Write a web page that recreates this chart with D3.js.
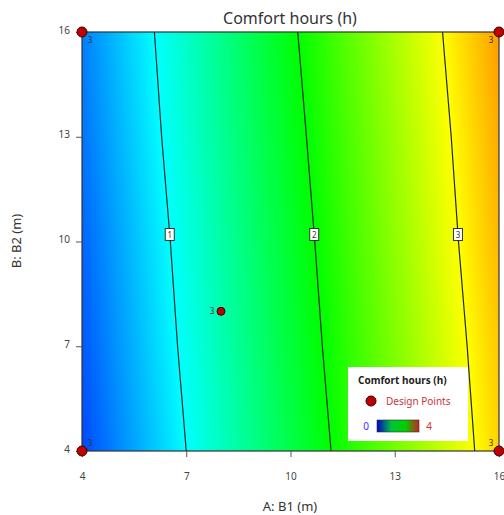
<!DOCTYPE html>
<html>
<head>
<meta charset="utf-8">
<script src="https://cdnjs.cloudflare.com/ajax/libs/d3/7.8.5/d3.min.js"></script>
<style>
  body { margin: 0; background: #fff; }
  svg { font-family: "Noto Sans", "Open Sans", sans-serif; }
</style>
</head>
<body>
<div id="chart"></div>
<script>
// grid of response values (rows: B, columns: A)
const aTicks = [4, 7, 10, 13, 16];
const bTicks = [4, 7, 10, 13, 16];
const comfort = [
  [0.28, 1.00, 1.72, 2.44, 3.17], // B = 4
  [0.34, 1.06, 1.78, 2.50, 3.22], // B = 7
  [0.39, 1.11, 1.83, 2.56, 3.28], // B = 10
  [0.45, 1.17, 1.89, 2.61, 3.33], // B = 13
  [0.50, 1.22, 1.95, 2.67, 3.39]  // B = 16
];
const levels = [1, 2, 3];
const labelB = 10.2;
const designA = [4, 16, 4, 16, 8];
const designB = [16, 16, 4, 4, 8];
const designRuns = [3, 3, 3, 3, 3];

const W = 504, H = 515;
const x = d3.scaleLinear().domain([4, 16]).range([82, 499]);
const y = d3.scaleLinear().domain([4, 16]).range([451, 32]);
const color = d3.scaleLinear()
  .domain([0, 1, 2, 3, 4])
  .range(["#0000ff", "#00ffff", "#00ff00", "#ffff00", "#ff0000"])
  .clamp(true);

// bilinear lookup in the read grid
function valueAt(a, b) {
  let i = d3.bisectRight(aTicks, a) - 1;
  let j = d3.bisectRight(bTicks, b) - 1;
  i = Math.max(0, Math.min(aTicks.length - 2, i));
  j = Math.max(0, Math.min(bTicks.length - 2, j));
  const tx = (a - aTicks[i]) / (aTicks[i + 1] - aTicks[i]);
  const ty = (b - bTicks[j]) / (bTicks[j + 1] - bTicks[j]);
  const v00 = comfort[j][i], v10 = comfort[j][i + 1];
  const v01 = comfort[j + 1][i], v11 = comfort[j + 1][i + 1];
  return (v00 * (1 - tx) + v10 * tx) * (1 - ty) + (v01 * (1 - tx) + v11 * tx) * ty;
}

const svg = d3.select("#chart").append("svg")
  .attr("width", W).attr("height", H);

// heat map
const x0 = x.range()[0], x1 = x.range()[1];
const y0 = y.range()[1], y1 = y.range()[0];
const cw = Math.round(x1 - x0), ch = Math.round(y1 - y0);
const canvas = document.createElement("canvas");
canvas.width = cw; canvas.height = ch;
const ctx = canvas.getContext("2d");
const img = ctx.createImageData(cw, ch);
for (let py = 0; py < ch; py++) {
  const b = y.invert(y0 + py + 0.5);
  for (let px = 0; px < cw; px++) {
    const a = x.invert(x0 + px + 0.5);
    const c = d3.rgb(color(valueAt(a, b)));
    const k = (py * cw + px) * 4;
    img.data[k] = c.r; img.data[k + 1] = c.g; img.data[k + 2] = c.b; img.data[k + 3] = 255;
  }
}
ctx.putImageData(img, 0, 0);
svg.append("image")
  .attr("x", x0).attr("y", y0)
  .attr("width", cw).attr("height", ch)
  .attr("preserveAspectRatio", "none")
  .attr("href", canvas.toDataURL());

// contour lines: crossing point of each level in every grid row
function crossing(row, lev) {
  for (let i = 0; i < aTicks.length - 1; i++) {
    const v0 = row[i], v1 = row[i + 1];
    if ((v0 - lev) * (v1 - lev) <= 0 && v0 !== v1) {
      return aTicks[i] + (lev - v0) / (v1 - v0) * (aTicks[i + 1] - aTicks[i]);
    }
  }
  return null;
}
const line = d3.line().x(d => x(d[0])).y(d => y(d[1]));
levels.forEach(lev => {
  const pts = bTicks.map((b, j) => [crossing(comfort[j], lev), b]).filter(d => d[0] !== null);
  svg.append("path")
    .attr("d", line(pts))
    .attr("fill", "none")
    .attr("stroke", "#1a2a2a")
    .attr("stroke-width", 1.2);
  // label box
  const la = d3.scaleLinear().domain(bTicks).range(pts.map(d => d[0]))(labelB);
  const g = svg.append("g").attr("transform", `translate(${x(la)},${y(labelB)})`);
  g.append("rect")
    .attr("x", -4.5).attr("y", -6).attr("width", 9).attr("height", 12)
    .attr("fill", "#fff").attr("stroke", "#333").attr("stroke-width", 1);
  g.append("text")
    .attr("y", 3.5).attr("text-anchor", "middle")
    .attr("font-size", 8).attr("fill", "#333")
    .text(lev);
});

// frame
svg.append("rect")
  .attr("x", x0).attr("y", y0).attr("width", x1 - x0).attr("height", y1 - y0)
  .attr("fill", "none").attr("stroke", "#333").attr("stroke-width", 1.2);

// axes
const xAxis = svg.append("g")
  .attr("transform", `translate(0,${y1})`)
  .call(d3.axisBottom(x).tickValues(aTicks).tickSize(6).tickPadding(16));
const yAxis = svg.append("g")
  .attr("transform", `translate(${x0},0)`)
  .call(d3.axisLeft(y).tickValues(bTicks).tickSize(6).tickPadding(6));
[xAxis, yAxis].forEach(ax => {
  ax.select(".domain").remove();
  ax.selectAll(".tick line").attr("stroke", "#555");
  ax.selectAll(".tick text").attr("fill", "#444").attr("font-size", 10)
    .attr("font-family", "\"Noto Sans\", sans-serif");
});
yAxis.selectAll(".tick text").attr("dy", "0.1em");

// design points
const pts = designA.map((a, i) => ({ a, b: designB[i], n: designRuns[i] }));
svg.selectAll("circle.dp")
  .data(pts).enter().append("circle")
  .attr("class", "dp")
  .attr("cx", d => x(d.a)).attr("cy", d => y(d.b))
  .attr("r", (d, i) => i === 4 ? 4 : 5)
  .attr("fill", "#c00000").attr("stroke", "#3a0000").attr("stroke-width", 1);
const lblOff = [[8, 11], [-8, 11], [8, -5], [-8, -5], [-9, 3]];
svg.selectAll("text.dpl")
  .data(pts).enter().append("text")
  .attr("class", "dpl")
  .attr("x", (d, i) => x(d.a) + lblOff[i][0])
  .attr("y", (d, i) => y(d.b) + lblOff[i][1])
  .attr("text-anchor", "middle")
  .attr("font-size", 8).attr("fill", "#333")
  .text(d => d.n);

// titles
svg.append("text")
  .attr("x", 290).attr("y", 24).attr("text-anchor", "middle")
  .attr("font-size", 16).attr("fill", "#333")
  .text("Comfort hours (h)");
svg.append("text")
  .attr("x", 290).attr("y", 511).attr("text-anchor", "middle")
  .attr("font-size", 13).attr("fill", "#333")
  .text("A: B1 (m)");
svg.append("text")
  .attr("transform", "translate(21,241) rotate(-90)")
  .attr("text-anchor", "middle")
  .attr("font-size", 13).attr("fill", "#333")
  .text("B: B2 (m)");

// legend
const lg = svg.append("g").attr("transform", "translate(348,367)");
lg.append("rect").attr("width", 120).attr("height", 74).attr("fill", "#fff");
lg.append("text").attr("x", 10).attr("y", 17)
  .attr("font-size", 10).attr("font-weight", "bold").attr("fill", "#222")
  .text("Comfort hours (h)");
lg.append("circle").attr("cx", 23).attr("cy", 34).attr("r", 5)
  .attr("fill", "#c00000").attr("stroke", "#3a0000");
lg.append("text").attr("x", 38).attr("y", 38)
  .attr("font-size", 10).attr("fill", "#c8323c")
  .text("Design Points");
const barStops = ["#0000cc", "#00c040", "#00d000", "#cc2020"];
const grad = svg.append("defs").append("linearGradient").attr("id", "cbar");
barStops.forEach((c, i) => {
  grad.append("stop").attr("offset", i / (barStops.length - 1)).attr("stop-color", c);
});
lg.append("rect").attr("x", 29).attr("y", 53).attr("width", 42).attr("height", 12)
  .attr("fill", "url(#cbar)").attr("stroke", "#333").attr("stroke-width", 0.6);
lg.append("text").attr("x", 18).attr("y", 63).attr("text-anchor", "middle")
  .attr("font-size", 10).attr("fill", "#3333ff").text("0");
lg.append("text").attr("x", 81).attr("y", 63).attr("text-anchor", "middle")
  .attr("font-size", 10).attr("fill", "#e03030").text("4");
</script>
</body>
</html>
